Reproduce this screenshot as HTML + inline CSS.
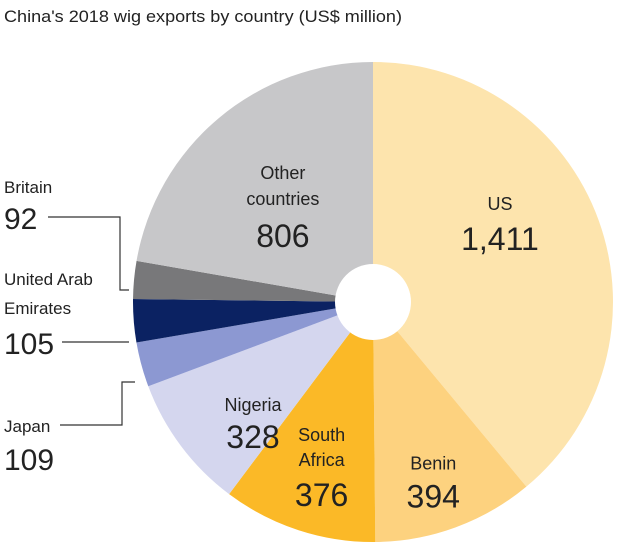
<!DOCTYPE html>
<html><head><meta charset="utf-8"><style>
body{margin:0;background:#fff;width:640px;height:555px;overflow:hidden;font-family:"Liberation Sans",sans-serif;}
svg{position:absolute;left:0;top:0}
text{font-family:"Liberation Sans",sans-serif;fill:#222}
</style></head><body>
<svg width="640" height="555">
<text x="4" y="22" font-size="17" textLength="398" lengthAdjust="spacingAndGlyphs">China's 2018 wig exports by country (US$ million)</text>
<g id="slices"></g>
<circle cx="373" cy="302" r="38" fill="#fff"/>
<g id="labels"></g>
<g stroke="#333" stroke-width="1.2" fill="none">
<polyline points="48,217 120,217 120,290 129,290"/>
<polyline points="62,342 129,342"/>
<polyline points="60,425 122,425 122,382 135,382"/>
</g>
<g>
<text x="4" y="193" font-size="17">Britain</text>
<text x="4" y="229" font-size="30">92</text>
<text x="4" y="285" font-size="17">United Arab</text>
<text x="4" y="314" font-size="17">Emirates</text>
<text x="4" y="354" font-size="30">105</text>
<text x="4" y="432" font-size="17">Japan</text>
<text x="4" y="470" font-size="30">109</text>
</g>
</svg>
<script>
const categories=["US","Benin","South Africa","Nigeria","Japan","United Arab Emirates","Britain","Other countries"];
const values=[1411,394,376,328,109,105,92,806];
const colors=["#fde4ad","#fdd27f","#fbb927","#d4d6ee","#8c98d2","#0b2262","#78787a","#c7c7c9"];
const cx=373,cy=302,r=240;
const total=values.reduce((a,b)=>a+b,0);
const g=document.getElementById('slices');
const NS="http://www.w3.org/2000/svg";
function pt(a,rr){return [cx+rr*Math.sin(a),cy-rr*Math.cos(a)];}
let acc=0;const mids=[];
values.forEach((v,i)=>{
 const a0=acc/total*2*Math.PI;acc+=v;const a1=acc/total*2*Math.PI;
 const p0=pt(a0,r),p1=pt(a1,r);
 const p=document.createElementNS(NS,'path');
 p.setAttribute('d',`M${cx},${cy}L${p0[0]},${p0[1]}A${r},${r} 0 ${a1-a0>Math.PI?1:0} 1 ${p1[0]},${p1[1]}Z`);
 p.setAttribute('fill',colors[i]);
 
 
 g.appendChild(p);mids.push((a0+a1)/2);
});
const L=document.getElementById('labels');
function lab(idx,rr,lines,dy){
 const m=pt(mids[idx],rr);
 lines.forEach((l,k)=>{
  const t=document.createElementNS(NS,'text');
  t.setAttribute('x',m[0]);t.setAttribute('y',m[1]+dy[k]);
  t.setAttribute('text-anchor','middle');t.setAttribute('font-size',l[1]);
  t.textContent=l[0];
  
  
  L.appendChild(t);
 });
}
function fmt(v){return v.toLocaleString('en-US');}
lab(0,135,[["US",18],[fmt(values[0]),32]],[-46,-6]);
lab(1,175,[["Benin",18],[fmt(values[1]),32]],[3,41]);
lab(2,165,[["South",18],["Africa",18],[fmt(values[2]),32]],[-18,7,47]);
lab(3,150,[["Nigeria",18],[fmt(values[3]),32]],[19,56]);
lab(7,140,[["Other",18],["countries",18],[fmt(values[7]),32]],[-16,10,52]);
</script>
</body></html>
